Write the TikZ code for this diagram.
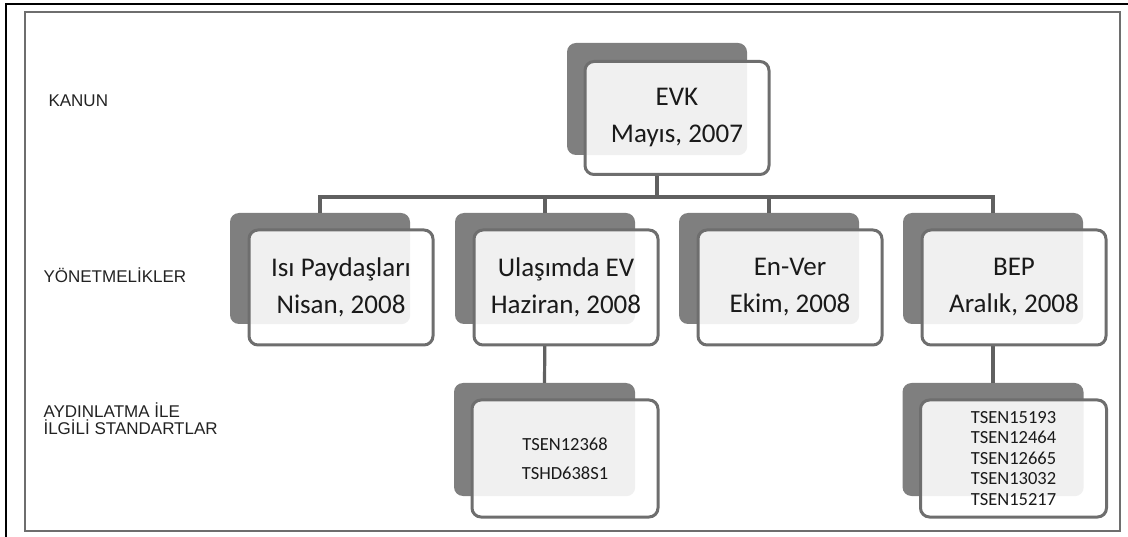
\documentclass[tikz,border=0pt]{standalone}
\usepackage{fontspec}
\setmainfont{Carlito}
\newfontfamily\labelfont{Liberation Sans}
\usetikzlibrary{positioning}

\definecolor{backgray}{HTML}{7F7F7F}
\definecolor{framegray}{HTML}{6E6E6E}
\definecolor{lightfill}{HTML}{F0F0F0}
\definecolor{linegray}{HTML}{606060}
\definecolor{labelgray}{HTML}{222222}
\definecolor{textgray}{HTML}{1A1A1A}

\tikzset{
  backbox/.style={rectangle, rounded corners=9pt, fill=backgray,
    minimum width=180pt, minimum height=112pt, inner sep=0pt},
  frontbox/.style={rectangle, rounded corners=9pt, draw=framegray,
    line width=3pt, fill=white, text=textgray,
    minimum width=184pt, minimum height=115pt, inner sep=0pt, align=center,
    font=\fontsize{27}{37}\selectfont,
    path picture={\fill[lightfill, rounded corners=9pt]
      (#1.north west) rectangle (#1.south east);}},
  conn/.style={draw=linegray, line width=3.2pt},
  level/.style={anchor=west, text=labelgray, align=left,
    font=\labelfont\fontsize{17}{17}\selectfont}
}

\begin{document}
\begin{tikzpicture}[x=1pt, y=-1pt]
      \useasboundingbox (0,0) rectangle (1128,537);

      % frame
      \draw[framegray, line width=1.6pt] (25,12) rectangle (1120,531);
      \draw[black, line width=2.2pt] (1128,4) -- (6,4) -- (6,537);

      \coordinate (bus) at (657,197);

      % back boxes
      \node[backbox] (evkb) at (657,99) {};
      \node[backbox, minimum height=111pt] (isib) at (320,268.5) {};
      \node[backbox, minimum height=111pt] (ulasimb) at (545,268.5) {};
      \node[backbox, minimum height=111pt] (enverb) at (769,268.5) {};
      \node[backbox, minimum height=111pt] (bepb) at (993,268.5) {};
      \node[backbox, minimum width=181pt, minimum height=113pt] (tsa) at (544.5,439.5) {};
      \node[backbox, minimum width=181pt, minimum height=113pt] (tsb) at (993,439.5) {};

      % connectors
      \foreach \child in {isib, ulasimb, enverb, bepb}
        \draw[conn] (evkb.south) -- (evkb.south |- bus) -| (\child.north);
      \draw[conn] (ulasimb.south) -- (tsa.north);
      \draw[conn] (bepb.south) -- (tsb.north);

      % front boxes
      \node[frontbox=evkb, minimum height=113pt] (evk) at ([shift={(20,19)}]evkb) {EVK\\Mayıs, 2007};
      \node[frontbox=isib] (isi) at ([shift={(21,19)}]isib) {Isı Paydaşları\\Nisan, 2008};
      \node[frontbox=ulasimb] (ulasim) at ([shift={(21,19)}]ulasimb) {Ulaşımda EV\\Haziran, 2008};
      \node[frontbox=enverb] (enver) at ([shift={(21,19)}]enverb) {En-Ver\\Ekim, 2008};
      \node[frontbox=bepb] (bep) at ([shift={(21,19)}]bepb) {BEP\\Aralık, 2008};
      \node[frontbox=tsa, minimum width=186pt, minimum height=117pt,
        font=\fontsize{18.5}{29}\selectfont] (tsastd) at ([shift={(20.5,19)}]tsa)
        {TSEN12368\\TSHD638S1};
      \node[frontbox=tsb, minimum width=186pt, minimum height=117pt,
        font=\fontsize{18.5}{20.5}\selectfont] (tsbstd) at ([shift={(20.5,19)}]tsb)
        {TSEN15193\\TSEN12464\\TSEN12665\\TSEN13032\\TSEN15217};

      % levels
      \node[level] (kanun) at (45,101) {KANUN};
      \node[level] (yonet) at (40,275) {YÖNETMELİKLER};
      \node[level] (aydin) at (40,419) {AYDINLATMA İLE\\İLGİLİ STANDARTLAR};
    \end{tikzpicture}
\end{document}
